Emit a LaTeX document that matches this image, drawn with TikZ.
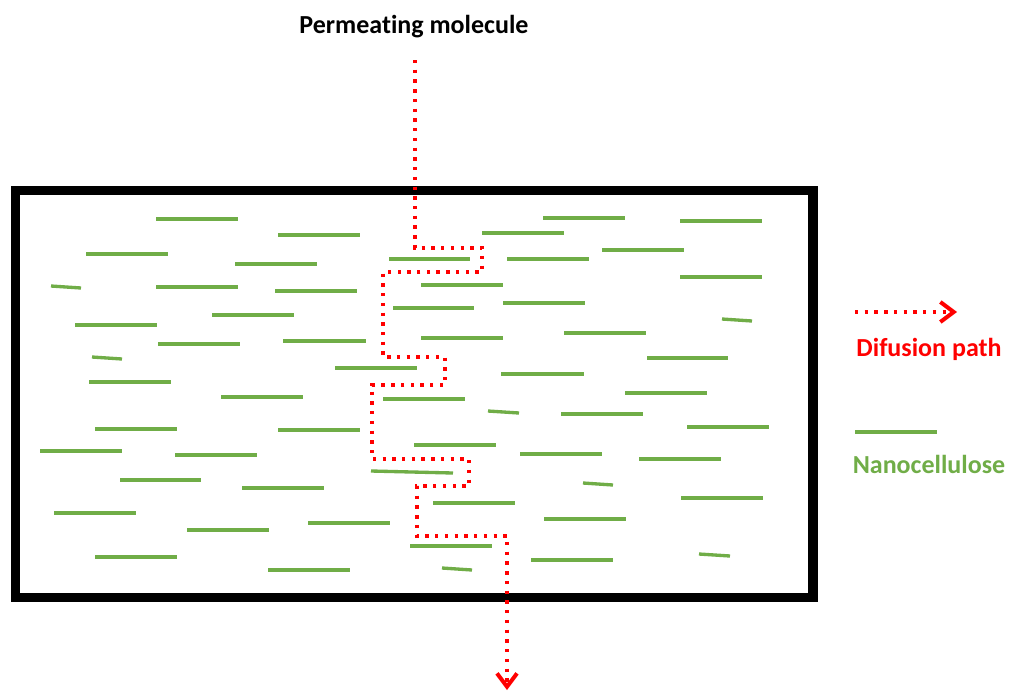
\documentclass[tikz,border=0pt]{standalone}
\usepackage{fontspec}
\setmainfont{Carlito}[Ligatures=NoCommon]
\usetikzlibrary{arrows.meta}
\definecolor{nanogreen}{HTML}{70AD47}
\definecolor{pathred}{HTML}{FF0000}
\tikzset{
  fibre/.style={draw=nanogreen, line width=2.5pt},
  diffpath/.style={draw=pathred, line width=2.5pt, dash pattern=on 2.5pt off 4.8pt,
    -{Straight Barb[length=10pt,width=15pt,line width=3pt]}},
  membrane/.style={draw=black, line width=7pt},
  lbl/.style={font=\bfseries\fontsize{19.5}{22}\selectfont, inner sep=0pt},
}
\begin{document}
\begin{tikzpicture}[x=0.75pt,y=-0.75pt]
\useasboundingbox (0,0) rectangle (1010,690);
\fill[white] (0,0) rectangle (1010,690);
% membrane
\draw[membrane] (15.5,190.5) rectangle (813,597.5);
% nanocellulose fibres
\foreach \a/\b/\y in {156/238/219, 278/360/235, 86/168/254, 235/317/264, 156/238/287,
  275/357/291, 212/294/315, 75/157/325, 158/240/344, 283/366/341, 335/417/368,
  89/171/382, 221/303/397, 389/470/259, 393/474/308, 383/465/399, 543/625/218,
  680/762/221, 482/564/233, 602/684/250, 507/589/259, 680/762/277, 421/503/285,
  503/585/303, 421/503/338, 564/646/333, 647/728/358, 501/584/374, 625/707/393,
  95/177/429, 278/360/430, 40/122/451, 175/257/455, 414/496/445, 120/201/480,
  242/324/488, 54/136/513, 187/269/530, 308/390/523, 410/492/546, 95/177/557,
  268/350/570, 561/643/414, 687/769/427, 520/602/454, 639/721/459, 681/763/498,
  433/515/503, 544/626/519, 531/613/560}
  \draw[fibre] (\a,\y) -- (\b,\y);
% short slightly tilted fibres
\foreach \a/\b/\y in {51/81/287, 92/122/358, 722/752/320, 371/453/472, 488/519/412,
  583/613/484, 699/730/555, 442/472/569}
  \draw[fibre] (\a,\y-1) -- (\b,\y+1);
% title
\node[lbl, text=black] (perm) at (414,27) {Permeating molecule};
\coordinate (start) at (415,60);
\coordinate (exit) at (507,690);
% diffusion path
\draw[diffpath] (start) -- (415,248) -- (482,248) -- (482,272) -- (383,272)
  -- (383,357) -- (445,357) -- (445,385) -- (372,385) -- (372,459) -- (469,459)
  -- (469,486) -- (417,486) -- (417,536) -- (507,536) -- (exit);
% legend
\coordinate (la) at (855,312);
\coordinate (lb) at (957,312);
\draw[diffpath] (la) -- (lb);
\node[lbl, text=pathred] (lpath) at (929,349) {Difusion path};
\coordinate (ga) at (855,432);
\coordinate (gb) at (937,432);
\draw[fibre] (ga) -- (gb);
\node[lbl, text=nanogreen] (lnano) at (929,464) {Nanocellulose};
\end{tikzpicture}
\end{document}
